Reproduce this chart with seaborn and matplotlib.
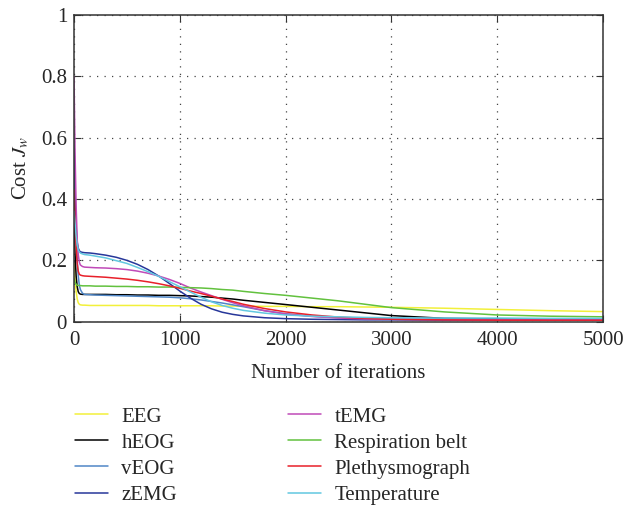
import numpy as np
import pandas as pd
import seaborn as sns
import matplotlib.pyplot as plt

# iterations sampled along the learning curves
ITERS = [0, 10, 20, 30, 40, 50, 60, 80, 100,
         150, 200, 300, 400, 500, 600, 700, 800, 900, 1000, 1100, 1200, 1300, 1400, 1500, 1600,
         1800, 2000, 2250, 2500, 2750, 3000, 3500, 4000, 4500, 5000]

EEG = [0.19, 0.14, 0.10, 0.075, 0.062, 0.057, 0.055, 0.054, 0.054,
       0.053, 0.053, 0.053, 0.053, 0.053, 0.053, 0.053, 0.052, 0.052, 0.052, 0.052, 0.052, 0.052, 0.051, 0.051, 0.051,
       0.050, 0.050, 0.049, 0.049, 0.048, 0.047, 0.044, 0.040, 0.036, 0.033]
HEOG = [0.33, 0.22, 0.15, 0.115, 0.098, 0.092, 0.090, 0.089, 0.089,
        0.089, 0.089, 0.089, 0.088, 0.088, 0.087, 0.087, 0.086, 0.086, 0.085, 0.084, 0.082, 0.080, 0.077, 0.074, 0.070,
        0.063, 0.056, 0.047, 0.038, 0.029, 0.020, 0.011, 0.009, 0.008, 0.008]
VEOG = [0.55, 0.40, 0.28, 0.20, 0.15, 0.12, 0.105, 0.093, 0.089,
        0.088, 0.087, 0.086, 0.085, 0.084, 0.083, 0.082, 0.081, 0.080, 0.078, 0.075, 0.071, 0.066, 0.061, 0.055, 0.049,
        0.036, 0.026, 0.018, 0.013, 0.011, 0.009, 0.008, 0.008, 0.008, 0.008]
ZEMG = [0.60, 0.42, 0.31, 0.26, 0.24, 0.232, 0.228, 0.226, 0.225,
        0.224, 0.222, 0.217, 0.210, 0.200, 0.187, 0.170, 0.149, 0.125, 0.100, 0.077, 0.057, 0.042, 0.031, 0.024, 0.019,
        0.013, 0.010, 0.008, 0.007, 0.006, 0.006, 0.005, 0.005, 0.005, 0.005]
TEMG = [0.80, 0.55, 0.38, 0.27, 0.22, 0.195, 0.185, 0.180, 0.178,
        0.177, 0.176, 0.175, 0.173, 0.170, 0.165, 0.158, 0.149, 0.138, 0.125, 0.110, 0.097, 0.085, 0.073, 0.062, 0.052,
        0.036, 0.025, 0.017, 0.012, 0.009, 0.008, 0.007, 0.006, 0.006, 0.006]
RESP = [0.14, 0.128, 0.122, 0.119, 0.118, 0.118, 0.118, 0.117, 0.117,
        0.117, 0.116, 0.116, 0.115, 0.115, 0.114, 0.114, 0.113, 0.113, 0.112, 0.111, 0.110, 0.108, 0.105, 0.103, 0.099,
        0.092, 0.086, 0.077, 0.068, 0.057, 0.046, 0.032, 0.022, 0.018, 0.016]
PLETH = [0.43, 0.33, 0.25, 0.19, 0.165, 0.155, 0.152, 0.150, 0.149,
         0.148, 0.147, 0.145, 0.142, 0.139, 0.135, 0.130, 0.124, 0.117, 0.109, 0.100, 0.092, 0.083, 0.074, 0.066, 0.057,
         0.043, 0.032, 0.022, 0.015, 0.011, 0.008, 0.006, 0.005, 0.005, 0.005]
TEMP = [0.36, 0.32, 0.28, 0.25, 0.235, 0.228, 0.224, 0.221, 0.219,
        0.217, 0.214, 0.208, 0.199, 0.190, 0.177, 0.163, 0.148, 0.131, 0.114, 0.097, 0.080, 0.065, 0.053, 0.044, 0.037,
        0.028, 0.022, 0.018, 0.016, 0.014, 0.013, 0.012, 0.012, 0.011, 0.011]

SIGNALS = ['EEG', 'hEOG', 'vEOG', 'zEMG', 'tEMG', 'Respiration belt', 'Plethysmograph', 'Temperature']
COLORS = ['#f2f03a', '#000000', '#4f86c6', '#27379a', '#c04ab8', '#62c13e', '#e8202a', '#62c8e0']

curves = [EEG, HEOG, VEOG, ZEMG, TEMG, RESP, PLETH, TEMP]
df = pd.concat([pd.DataFrame({'iter': ITERS, 'cost': c, 'signal': s})
                for s, c in zip(SIGNALS, curves)], ignore_index=True)

sns.set_style('ticks')
plt.rcParams['font.family'] = ['Liberation Serif', 'DejaVu Serif']
plt.rcParams['mathtext.fontset'] = 'stix'

fig = plt.figure(figsize=(6.25, 5.08), dpi=100)
ax = fig.add_axes([0.1184, 0.3667, 0.8464, 0.6038])

sns.lineplot(data=df, x='iter', y='cost', hue='signal', hue_order=SIGNALS,
             palette=dict(zip(SIGNALS, COLORS)), linewidth=1.1, ax=ax, legend=True)

ax.set_xlim(0, 5000)
ax.set_ylim(0, 1)
ax.set_xticks([0, 1000, 2000, 3000, 4000, 5000])
ax.set_yticks([0, 0.2, 0.4, 0.6, 0.8, 1])
ax.set_yticklabels(['0', '0.2', '0.4', '0.6', '0.8', '1'])
ax.grid(True, color='#444444', linestyle=(0, (1, 5)), linewidth=0.9)
ax.tick_params(direction='in', top=True, right=True, length=5, labelsize=15, pad=5, color='#333333')
ax.tick_params(axis='x', pad=7)
for sp in ax.spines.values():
    sp.set_visible(True)
    sp.set_color('#333333')
    sp.set_linewidth(1.1)
ax.set_xlabel('Number of iterations', fontsize=15, labelpad=10)
ax.set_ylabel(r'Cost $J_w$', fontsize=15, labelpad=7)

handles, labels = ax.get_legend_handles_labels()
ax.get_legend().remove()
fig.legend(handles, labels, ncol=2, frameon=False, loc='upper left',
           bbox_to_anchor=(0.106, 0.215), fontsize=15, handlelength=1.6,
           handletextpad=0.65, columnspacing=5.3, labelspacing=0.31,
           borderaxespad=0)

fig.savefig('out.png', dpi=100)
